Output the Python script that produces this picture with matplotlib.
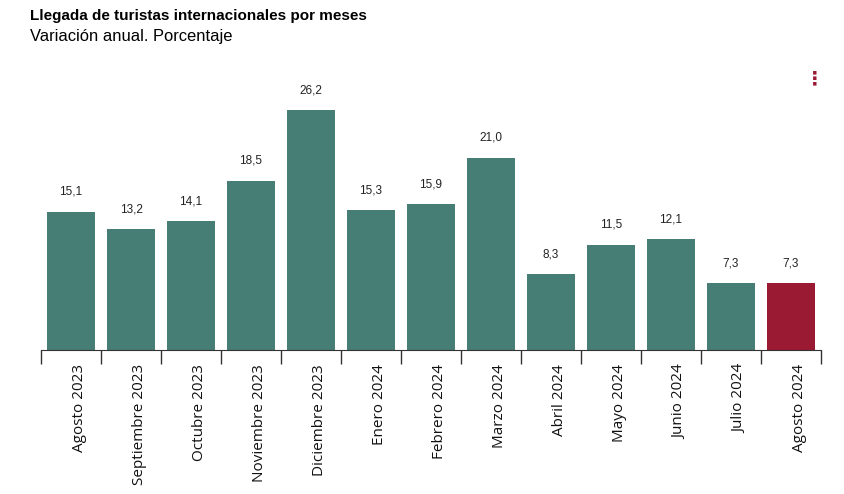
import matplotlib.pyplot as plt
import matplotlib.transforms as mtransforms
import numpy as np

meses = ['Agosto 2023', 'Septiembre 2023', 'Octubre 2023', 'Noviembre 2023',
         'Diciembre 2023', 'Enero 2024', 'Febrero 2024', 'Marzo 2024',
         'Abril 2024', 'Mayo 2024', 'Junio 2024', 'Julio 2024', 'Agosto 2024']
variacion = [15.1, 13.2, 14.1, 18.5, 26.2, 15.3, 15.9, 21.0, 8.3, 11.5, 12.1, 7.3, 7.3]

verde = '#467d74'
rojo = '#9b1a33'

fig = plt.figure(figsize=(8.45, 4.94), dpi=100)
ax = fig.add_axes([41/845, 1-350/494, 780/845, 290/494])

x = np.arange(len(meses))
colores = [verde]*(len(meses)-1) + [rojo]
ax.bar(x, variacion, width=0.8, color=colores)

for xi, v in zip(x, variacion):
    ax.text(xi, v + 1.5, f'{v:.1f}'.replace('.', ','), ha='center', va='bottom',
            fontsize=8.5, family='Liberation Sans', color='#222222')

ax.set_xlim(-0.5, len(meses)-0.5)
ax.set_ylim(0, 31.66)
for s in ['top', 'right', 'left']:
    ax.spines[s].set_visible(False)
ax.spines['bottom'].set_color('#333333')
ax.set_yticks([])
ax.set_xticks(x)
ax.set_xticklabels(meses, rotation=90, fontsize=11, family='Open Sans', va='top',
                   color='#111111')
ax.tick_params(axis='x', which='major', length=0, pad=10)
ax.set_xticks(np.arange(-0.5, len(meses)), minor=True)
ax.tick_params(axis='x', which='minor', length=10, color='#333333', width=1)

# etiquetas desplazadas a la derecha del centro de la barra
desplaza = mtransforms.ScaledTranslation(9/100, 0, fig.dpi_scale_trans)
for lab in ax.get_xticklabels():
    lab.set_transform(lab.get_transform() + desplaza)

fig.text(30/845, 1-16/494, 'Llegada de turistas internacionales por meses',
         fontsize=11, fontweight='bold', family='Liberation Sans', va='center')
fig.text(30/845, 1-36/494, 'Variación anual. Porcentaje',
         fontsize=11.9, family='Liberation Sans', va='center')
fig.text(815/845, 1-79/494, '⋮', fontsize=14, fontweight='bold', color=rojo,
         ha='center', va='center')

plt.savefig('out.png', dpi=100)
plt.close()
